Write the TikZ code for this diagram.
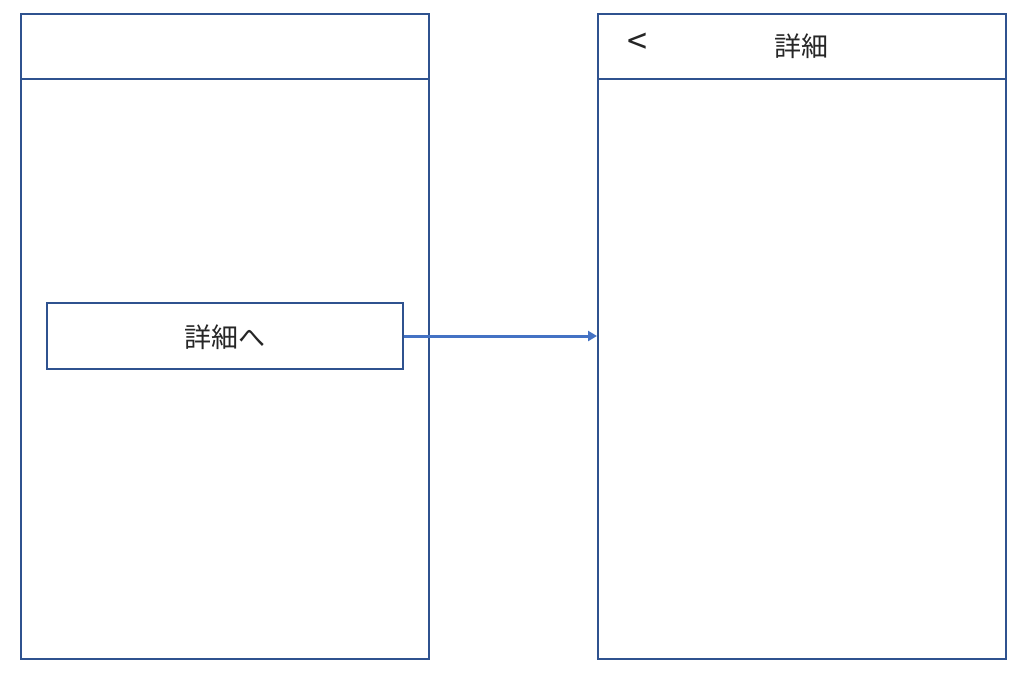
\documentclass[tikz,border=0pt]{standalone}
\usepackage{fontspec}
\setmainfont{Noto Sans CJK JP}
\usetikzlibrary{arrows.meta}
\definecolor{frame}{HTML}{2F528F}
\definecolor{arrowc}{HTML}{4472C4}
\tikzset{
  screen/.style={draw=frame, line width=1.4pt},
  btn/.style={draw=frame, line width=1.4pt, minimum width=356pt, minimum height=66pt, inner sep=0pt},
  lbl/.style={font=\fontsize{27pt}{32pt}\selectfont, text=black!85, inner sep=0pt},
  navarrow/.style={draw=arrowc, line width=3pt, -{Triangle[length=9pt,width=10pt]}}
}
\begin{document}
\begin{tikzpicture}[x=1pt,y=-1pt]
\useasboundingbox (0,0) rectangle (1024,683);
\fill[white] (0,0) rectangle (1024,683);
% left screen
\draw[screen] (21,14) rectangle (429,659);
\draw[screen] (21,79) -- (429,79);
% right screen
\draw[screen] (598,14) rectangle (1006,659);
\draw[screen] (598,79) -- (1006,79);
\coordinate (target) at (597,336);
\node[btn] (button) at (225,336) {};
\node[lbl] (btntext) at (225,337) {詳細へ};
\node[lbl, font=\fontsize{36pt}{40pt}\selectfont] (back) at (637,44) {<};
\node[lbl] (title) at (801,46) {詳細};
\draw[navarrow, line width=3pt] (button.east) -- (target);
\end{tikzpicture}
\end{document}
